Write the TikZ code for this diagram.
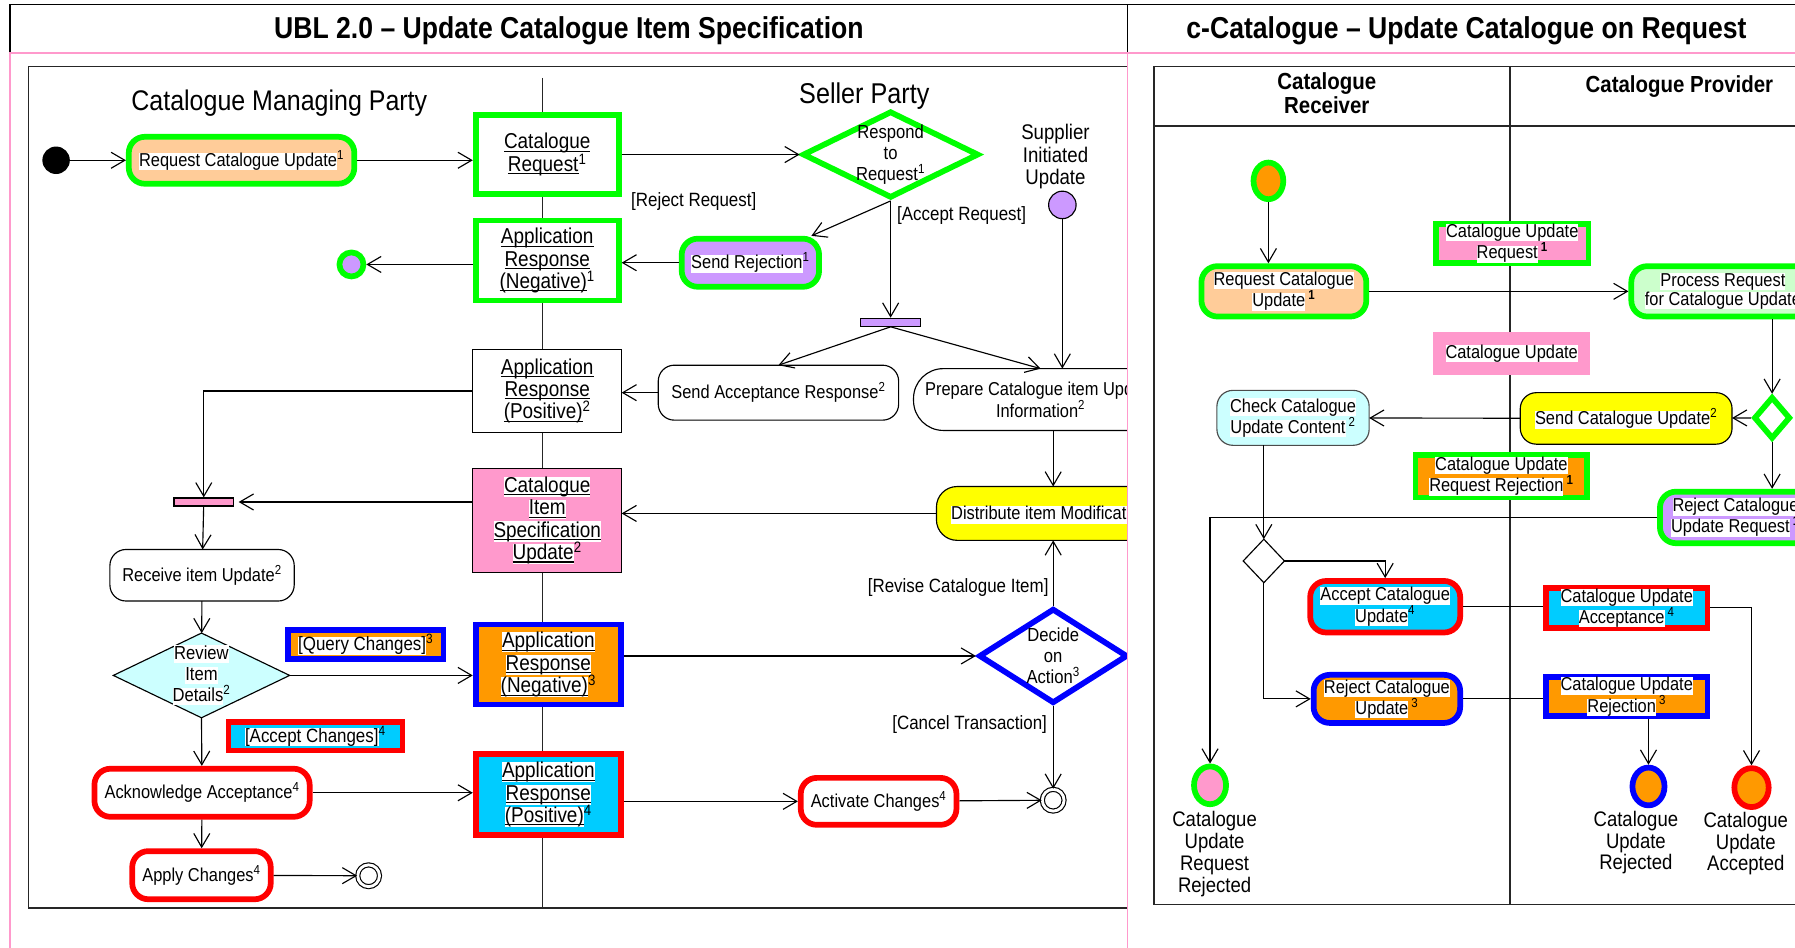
\documentclass[tikz,border=0pt]{standalone}
\usepackage{fontspec}
\setmainfont[FakeStretch=0.88]{Liberation Sans}
\usetikzlibrary{arrows.meta,shapes.geometric}
\definecolor{ugreen}{HTML}{00FF00}
\definecolor{upeach}{HTML}{FFCC99}
\definecolor{upurple}{HTML}{CC99FF}
\definecolor{upink}{HTML}{FF99CC}
\definecolor{uorange}{HTML}{FF9900}
\definecolor{ublue}{HTML}{0000FF}
\definecolor{ured}{HTML}{FF0000}
\definecolor{ucyan}{HTML}{00CCFF}
\definecolor{ulcyan}{HTML}{CCFFFF}
\definecolor{uyellow}{HTML}{FFFF00}
\definecolor{ulgreen}{HTML}{CCFFCC}
% white highlight behind a line of text
\newcommand{\wl}[1]{{\setlength{\fboxsep}{0pt}\colorbox{white}{\vphantom{Ag}#1}}}
% underline just below the baseline, crossing descenders
\newcommand{\uln}[1]{{\setbox0\hbox{#1}\rlap{\rule[-2.6pt]{\wd0}{0.9pt}}\box0}}
\newcommand{\supx}[1]{\textsuperscript{#1}}
\tikzset{
  base/.style={inner sep=0pt, outer sep=0pt, align=center, fill=white},
  actfont/.style={font=\fontsize{16.3}{19}\selectfont},
  objfont/.style={font=\fontsize{18.8}{19.6}\selectfont},
  rfont/.style={font=\fontsize{16.3}{17}\selectfont},
  act/.style={base, actfont, rectangle, rounded corners=14pt, draw=black, line width=1pt},
  obj/.style={base, objfont, rectangle, draw=black, line width=1pt},
  dia/.style={base, diamond, draw=black, line width=1pt},
  gline/.style={draw=ugreen, line width=5pt, outer sep=2.5pt},
  bline/.style={draw=ublue, line width=5pt, outer sep=2.5pt},
  rline/.style={draw=ured, line width=5pt, outer sep=2.5pt},
  diafont/.style={font=\fontsize{16.5}{18.5}\selectfont, align=center, inner sep=0pt},
  guard/.style={font=\fontsize{16.8}{19}\selectfont, inner sep=0pt},
  lblfont/.style={font=\fontsize{18.4}{19}\selectfont, align=center, inner sep=0pt},
  hdrfont/.style={font=\fontsize{20.3}{21}\selectfont\bfseries, align=center, inner sep=0pt},
  titlefont/.style={font=\fontsize{26.4}{30}\selectfont\bfseries, inner sep=0pt},
  bar/.style={rectangle, draw=black, line width=1pt, minimum width=52pt, minimum height=7pt, inner sep=0pt},
  initnode/.style={circle, fill=black, minimum size=24pt, inner sep=0pt},
  endnode/.style={circle, draw=black, line width=1pt, double=white, double distance=2.5pt, minimum size=19pt, inner sep=0pt},
  flow/.style={line width=1pt, -{Straight Barb[length=12pt,width=14pt,line width=1pt]}},
  plain/.style={line width=1pt},
  frame/.style={line width=1.5pt, draw=black!85},
  pinkline/.style={line width=1.5pt, draw=upink},
}
\begin{document}
\begin{tikzpicture}[x=1pt,y=-1pt]
\useasboundingbox (0,0) rectangle (1568,828);
\fill[white] (0,0) rectangle (1568,828);

% ---------- left panel: UBL activity diagram ----------
\begin{scope}
\clip (9,46) rectangle (985,828);
\draw[frame] (25,58) rectangle (1100,793);
\draw[frame] (474,68) -- (474,793);
\node[font=\fontsize{24.8}{26}\selectfont, inner sep=0pt] (lane1) at (244,90) {Catalogue Managing Party};
\node[font=\fontsize{25}{26}\selectfont, inner sep=0pt] (lane2) at (755,84) {Seller Party};

\node[initnode] (start) at (49,140) {};
\node[act, gline, fill=upeach, minimum width=197pt, minimum height=41pt] (reqcu) at (211,140) {\wl{Request Catalogue Update}\supx{1}};
\node[obj, gline, minimum width=125pt, minimum height=69pt] (catreq) at (478,135) {\wl{\uln{Catalogue}}\\\wl{\uln{Request}}\supx{1}};
\node[dia, gline, minimum width=154pt, minimum height=76pt,
  label={[diafont]center:{Respond\\to\\Request\supx{1}}}] (respond) at (778,135) {};
\node[guard] (lrej) at (606,176) {[Reject Request]};
\node[guard] (lacc) at (840,188) {[Accept Request]};
\node[act, gline, fill=upurple, minimum width=120pt, minimum height=42pt] (sendrej) at (655.5,229.5) {\wl{Send Rejection}\supx{1}};
\node[obj, gline, minimum width=125pt, minimum height=70pt] (arneg1) at (478,227.5) {\wl{\uln{Application}}\\\wl{\uln{Response}}\\\wl{\uln{(Negative)}}\supx{1}};
\node[circle, gline, fill=upurple, minimum size=21pt, inner sep=0pt] (fin1) at (307,231) {};
\node[bar, fill=upurple] (fork) at (778,281.5) {};
\node[font=\fontsize{18.5}{19.5}\selectfont, align=center, inner sep=0pt] (supptxt) at (922,137) {Supplier\\Initiated\\Update};
\node[circle, draw=black, line width=1pt, fill=upurple, minimum size=24pt, inner sep=0pt] (supp) at (928,179) {};
\node[act, minimum width=210pt, minimum height=48pt] (sendacc) at (680,343) {Send Acceptance Response\supx{2}};
\node[act, rounded corners=26pt, minimum width=222pt, minimum height=54pt] (prep) at (909,349) {Prepare Catalogue item Update\\Information\supx{2}};
\node[obj, minimum width=130pt, minimum height=73pt] (arpos2) at (478,341.5) {\uln{Application}\\\uln{Response}\\\uln{(Positive)}\supx{2}};
\node[act, fill=uyellow, rounded corners=18pt, minimum width=204pt, minimum height=47pt] (dist) at (920,448.5) {\wl{Distribute item Modification}\supx{2}};
\node[obj, fill=upink, minimum width=130pt, minimum height=91pt] (cisu) at (478,454.5) {\wl{\uln{Catalogue}}\\\wl{\uln{Item}}\\\wl{\uln{Specification}}\\\wl{\uln{Update}}\supx{2}};
\node[bar, fill=upink] (join) at (178,438.5) {};
\node[act, minimum width=161pt, minimum height=45pt] (recv) at (176.5,502.5) {Receive item Update\supx{2}};
\node[dia, fill=ulcyan, minimum width=154pt, minimum height=74pt,
  label={[diafont]center:{\wl{Review}\\\wl{Item}\\\wl{Details}\supx{2}}}] (review) at (176,590) {};
\node[obj, bline, fill=uorange, font=\fontsize{16.8}{19}\selectfont, minimum width=136pt, minimum height=25pt] (qc) at (319.5,563) {\wl{[Query Changes]}\supx{3}};
\node[obj, bline, fill=uorange, minimum width=127pt, minimum height=70pt] (arneg3) at (479,580.5) {\wl{\uln{Application}}\\\wl{\uln{Response}}\\\wl{\uln{(Negative)}}\supx{3}};
\node[dia, bline, minimum width=130pt, minimum height=83pt,
  label={[diafont]center:{Decide\\on\\Action\supx{3}}}] (decide) at (920,573) {};
\node[guard] (lrev) at (837,513) {[Revise Catalogue Item]};
\node[guard] (lcan) at (847,633) {[Cancel Transaction]};
\node[endnode] (endA) at (920,699) {};
\node[obj, rline, fill=ucyan, font=\fontsize{16.8}{19}\selectfont, minimum width=152pt, minimum height=25pt] (accch) at (275.5,643) {\wl{[Accept Changes]}\supx{4}};
\node[act, rline, minimum width=188pt, minimum height=42pt] (ack) at (176.5,692.5) {Acknowledge Acceptance\supx{4}};
\node[obj, rline, fill=ucyan, minimum width=127pt, minimum height=71pt] (arpos4) at (479,694) {\wl{\uln{Application}}\\\wl{\uln{Response}}\\\wl{\uln{(Positive)}}\supx{4}};
\node[act, rline, minimum width=136pt, minimum height=41pt] (activ) at (767.5,700) {Activate Changes\supx{4}};
\node[act, rline, minimum width=121pt, minimum height=42pt] (apply) at (176,764.5) {Apply Changes\supx{4}};
\node[endnode] (endB) at (322,765) {};

\draw[flow] (start) -- (reqcu);
\draw[flow] (reqcu) -- (reqcu -| catreq.west);
\draw[flow] (catreq) -- (respond);
\draw[flow] (respond.south) -- (sendrej);
\draw[flow] (sendrej) -- (sendrej -| arneg1.east);
\draw[flow] (arneg1.west |- fin1) -- (fin1);
\draw[flow] (respond.south) -- (fork.north);
\draw[flow] (fork.south) -- (sendacc.north);
\draw[flow] (fork.south) -- (prep.north);
\draw[flow] (supp) -- (supp |- prep.north);
\draw[flow] (sendacc) -- (sendacc -| arpos2.east);
\draw[flow] (prep.south -| dist) -- (dist.north);
\draw[flow] (dist) -- (dist -| cisu.east);
\draw[flow, shorten >=4pt] (cisu.west |- join) -- (join.east);
\draw[flow] (arpos2.west) -| (join.north);
\draw[flow] (join) -- (recv);
\draw[flow] (recv) -- (review);
\draw[flow] (review.east) -- (review.east -| arneg3.west);
\draw[flow] (arneg3.east |- decide) -- (decide.west);
\draw[flow] (decide.north) -- (dist.south);
\draw[flow] (decide.south) -- (endA);
\draw[flow] (review.south) -- (ack);
\draw[flow] (ack) -- (ack -| arpos4.west);
\draw[flow] (arpos4.east |- activ) -- (activ);
\draw[flow] (activ) -- (endA);
\draw[flow] (ack) -- (apply);
\draw[flow] (apply) -- (endB);
\end{scope}

% ---------- right panel: c-Catalogue activity diagram ----------
\begin{scope}
\clip (985,46) rectangle (1568,828);
\draw[frame] (1008,58) rectangle (1650,790);
\draw[frame] (1008,110) -- (1650,110);
\draw[frame] (1319,58) -- (1319,790);
\node[hdrfont] (hrecv) at (1159,81) {Catalogue\\Receiver};
\node[hdrfont] (hprov) at (1467,76) {Catalogue Provider};

\node[ellipse, gline, fill=uorange, minimum width=26pt, minimum height=32pt, inner sep=0pt] (rstart) at (1108,158) {};
\node[act, rfont, gline, fill=upeach, minimum width=144pt, minimum height=44pt] (rreq) at (1121.5,254.5) {\wl{Request Catalogue}\\\wl{Update}\,\supx{\textbf{1}}};
\node[obj, rfont, gline, fill=upink, minimum width=133pt, minimum height=34pt] (msgreq) at (1321,212.5) {\wl{Catalogue Update}\\\wl{Request}\,\supx{\textbf{1}}};
\node[act, rfont, gline, fill=ulgreen, minimum width=160pt, minimum height=44pt] (proc) at (1505,254.5) {\wl{Process Request}\\\wl{for Catalogue Update}};
\node[obj, rfont, draw=none, fill=upink, minimum width=137pt, minimum height=38pt] (msgupd) at (1320.5,309) {\wl{Catalogue Update}};
\node[dia, gline, minimum width=32pt, minimum height=37pt] (gdec) at (1548,365) {};
\node[act, rfont, fill=uyellow, minimum width=185pt, minimum height=45pt] (sendcu) at (1420.5,365.5) {\wl{Send Catalogue Update}\supx{2}};
\node[act, rfont, fill=ulcyan, draw=black!70, minimum width=133pt, minimum height=48pt] (check) at (1129.5,365) {\wl{Check Catalogue}\\\wl{Update Content}\,\supx{2}};
\node[act, rfont, gline, fill=upurple, minimum width=132pt, minimum height=45pt] (rejreq) at (1516,452) {\wl{Reject Catalogue}\\\wl{Update Request}\,\supx{\textbf{1}}};
\node[obj, rfont, gline, fill=uorange, minimum width=150pt, minimum height=37pt] (msgrej) at (1311.5,416) {\wl{Catalogue Update}\\\wl{Request Rejection}\,\supx{\textbf{1}}};
\node[dia, minimum width=36pt, minimum height=38pt] (sdec) at (1104,490) {};
\node[act, rfont, rline, fill=ucyan, minimum width=131pt, minimum height=45pt] (acu) at (1210,530) {\wl{Accept Catalogue}\\\wl{Update}\supx{4}};
\node[act, rfont, bline, fill=uorange, minimum width=128pt, minimum height=42pt] (rjcu) at (1211.5,610.5) {\wl{Reject Catalogue}\\\wl{Update}\,\supx{3}};
\node[obj, rfont, rline, fill=ucyan, minimum width=141pt, minimum height=35pt] (msgacc) at (1421,531) {\wl{Catalogue Update}\\\wl{Acceptance}\,\supx{4}};
\node[obj, rfont, bline, fill=uorange, minimum width=141pt, minimum height=34pt] (msgrjc) at (1421,608.5) {\wl{Catalogue Update}\\\wl{Rejection}\,\supx{3}};
\node[ellipse, gline, fill=upink, minimum width=28pt, minimum height=33pt, inner sep=0pt] (rend1) at (1057,686) {};
\node[ellipse, bline, fill=uorange, minimum width=28pt, minimum height=33pt, inner sep=0pt] (rend2) at (1440,687) {};
\node[ellipse, rline, fill=uorange, minimum width=30pt, minimum height=34pt, inner sep=0pt] (rend3) at (1530,688) {};
\node[lblfont] (lb1) at (1061,746) {Catalogue\\Update\\Request\\Rejected};
\node[lblfont] (lb2) at (1429,736) {Catalogue\\Update\\Rejected};
\node[lblfont] (lb3) at (1525,737) {Catalogue\\Update\\Accepted};

\draw[flow] (rstart) -- (rstart |- rreq.north);
\draw[flow] (rreq) -- (rreq -| proc.west);
\draw[flow] (gdec |- proc.south) -- (gdec.north);
\draw[flow] (gdec) -- (sendcu);
\draw[flow] (sendcu) -- (check);
\draw[flow] (gdec.south) -- (gdec.south |- rejreq.north);
\draw[flow] (rejreq.west) -| (rend1.north);
\draw[flow] (sdec |- check.south) -- (sdec.north);
\draw[flow] (sdec.east) -| (acu.north);
\draw[flow] (sdec.south) |- (rjcu.west);
\draw[plain] (acu) -- (acu -| msgacc.west);
\draw[flow] (msgacc.east) -| (rend3.north);
\draw[plain] (rjcu) -- (rjcu -| msgrjc.west);
\draw[flow] (rend2 |- msgrjc.south) -- (rend2.north);
\end{scope}

% ---------- title row and panel rules ----------
\node[titlefont] (title1) at (497,27) {UBL 2.0 – Update Catalogue Item Specification};
\node[titlefont] (title2) at (1281,27) {c-Catalogue – Update Catalogue on Request};
\draw[frame, draw=black] (8,4) -- (1568,4);
\draw[frame, draw=black] (9,4) -- (9,46);
\draw[frame, draw=black] (985,4) -- (985,46);
\draw[pinkline] (8,46) -- (1568,46);
\draw[pinkline] (9,46) -- (9,828);
\draw[pinkline] (985,46) -- (985,828);
\end{tikzpicture}
\end{document}
